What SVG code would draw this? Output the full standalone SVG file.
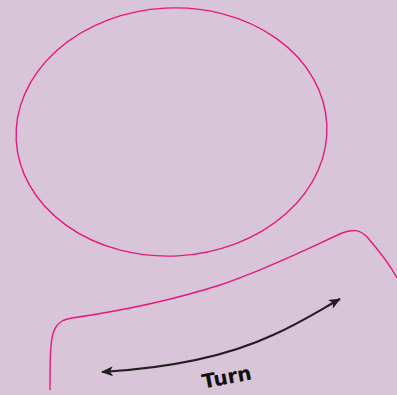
<svg xmlns="http://www.w3.org/2000/svg" width="397" height="395" viewBox="0 0 397 395">
<defs>
<style>
.pink{fill:none;stroke:#e5197f;stroke-width:1.4}
.arr{fill:none;stroke:#231f20;stroke-width:2}
.lbl{font-family:"DejaVu Sans","Liberation Sans",sans-serif;font-weight:bold;font-size:20px;fill:#111}
</style>
<marker id="ah" viewBox="0 0 12 10" refX="11" refY="5" markerWidth="12" markerHeight="10" markerUnits="userSpaceOnUse" orient="auto-start-reverse">
<path d="M0,0 L12,5 L0,10 L3,5 Z" fill="#231f20"/>
</marker>
</defs>
<rect width="397" height="395" fill="#d9c5d8"/>
<g id="head"><ellipse class="pink" cx="171.5" cy="132" rx="155.5" ry="124" transform="rotate(-3 171.5 132)"/></g>
<g id="body"><path class="pink" d="M50,390 C50,355 50,335 56,327 C60,321 63,320 72,318 C120,311 170,301 220,285 C265,270 305,250 342,233 C352,229 360,229 368,238 C380,252 390,265 397,278"/></g>
<g id="connectors"><path class="arr" d="M102,372 C170,368 230,355 273,335 C300,323 320,310 340,299" marker-start="url(#ah)" marker-end="url(#ah)"/></g>
<g id="label"><text class="lbl" x="228" y="384" text-anchor="middle" transform="rotate(-11 228 384)">Turn</text></g>
</svg>
